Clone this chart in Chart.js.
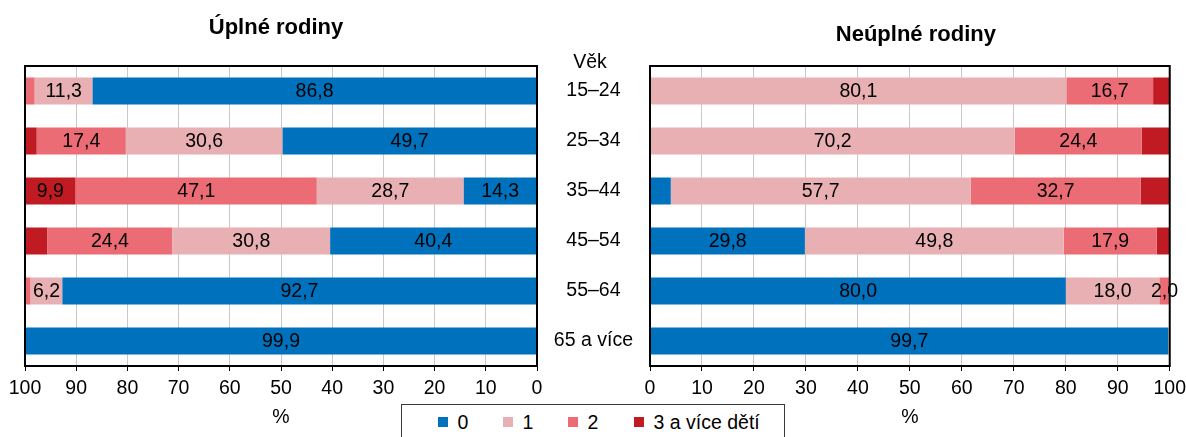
<!DOCTYPE html>
<html>
<head>
<meta charset="utf-8">
<script src="https://cdn.jsdelivr.net/npm/chart.js@4.4.1/dist/chart.umd.min.js"></script>
<style>
html,body{margin:0;padding:0;background:#fff;width:1186px;height:437px;overflow:hidden;font-family:"Liberation Sans",Arial,sans-serif;position:relative;}
canvas{position:absolute;top:0;}
#left{left:0;}
#right{left:540px;}
#legend{position:absolute;left:401px;top:404px;width:384px;height:40px;border:1px solid #3a3a3a;background:#fff;box-sizing:border-box;}
.item{position:absolute;top:6px;font-size:19.5px;line-height:22px;white-space:nowrap;color:#000;}
.sw{position:absolute;left:0;top:6px;width:10px;height:10px;}
.tx{position:absolute;left:19.5px;top:0;}
</style>
</head>
<body>
<canvas id="left" width="560" height="437"></canvas>
<canvas id="right" width="652" height="437"></canvas>
<div id="legend"></div>
<script>
// ---- data ----
const ageGroups = ['15–24', '25–34', '35–44', '45–54', '55–64', '65 a více'];
const seriesNames = ['0', '1', '2', '3 a více dětí'];
const panelTitles = ['Úplné rodiny', 'Neúplné rodiny'];
const ageAxisTitle = 'Věk';
const valueAxisTitle = '%';

// Úplné rodiny (complete families)
const full0 = [86.8, 49.7, 14.3, 40.4, 92.7, 99.9];
const full1 = [11.3, 30.6, 28.7, 30.8, 6.2, 0.1];
const full2 = [1.9, 17.4, 47.1, 24.4, 1.1, 0.0];
const full3 = [0.0, 2.3, 9.9, 4.4, 0.0, 0.0];

// Neúplné rodiny (single-parent families)
const single0 = [0.0, 0.0, 4.0, 29.8, 80.0, 99.7];
const single1 = [80.1, 70.2, 57.7, 49.8, 18.0, 0.3];
const single2 = [16.7, 24.4, 32.7, 17.9, 2.0, 0.0];
const single3 = [3.2, 5.4, 5.6, 2.5, 0.0, 0.0];

// ---- styles ----
const seriesColors = ['#0071BD', '#E8B0B3', '#EB6C74', '#C01A22'];
const FONT = '"Liberation Sans", Arial, sans-serif';
const FS = 19.5;

function datasets(arrs) {
  return arrs.map((d, i) => ({
    label: seriesNames[i],
    data: d,
    backgroundColor: seriesColors[i],
    borderWidth: 0,
    barPercentage: 0.54,
    categoryPercentage: 1.0
  }));
}

const boxPlugin = {
  id: 'box',
  afterDatasetsDraw(chart) {
    const a = chart.chartArea, c = chart.ctx;
    c.save();
    c.strokeStyle = '#000';
    c.lineWidth = 2;
    c.strokeRect(a.left, a.top, a.right - a.left, a.bottom - a.top);
    c.restore();
  }
};

const labelPlugin = {
  id: 'seglabels',
  afterDraw(chart, args, opts) {
    const c = chart.ctx;
    c.save();
    c.font = FS + 'px ' + FONT;
    c.fillStyle = '#000';
    c.textAlign = 'center';
    c.textBaseline = 'middle';
    chart.data.datasets.forEach((ds, di) => {
      const meta = chart.getDatasetMeta(di);
      meta.data.forEach((el, i) => {
        const v = ds.data[i];
        const extra = (opts.extra || []).some(e => e[0] === di && e[1] === i);
        if (!(v >= opts.min || extra)) return;
        const p = el.getProps(['x', 'base', 'y'], true);
        c.fillText(v.toFixed(1).replace('.', ','), (p.x + p.base) / 2, p.y + 1);
      });
    });
    c.restore();
  }
};

const panelTitlePlugin = {
  id: 'ptitle',
  afterDraw(chart, args, opts) {
    const c = chart.ctx, a = chart.chartArea;
    c.save();
    c.font = 'bold 22px ' + FONT;
    c.fillStyle = '#000';
    c.textAlign = 'center';
    c.textBaseline = 'middle';
    c.fillText(opts.text, (a.left + a.right) / 2 + opts.dx, opts.y);
    c.restore();
  }
};

const vekPlugin = {
  id: 'vek',
  afterDraw(chart) {
    const c = chart.ctx, a = chart.chartArea;
    c.save();
    c.font = FS + 'px ' + FONT;
    c.fillStyle = '#000';
    c.textAlign = 'center';
    c.textBaseline = 'middle';
    c.fillText(ageAxisTitle, a.left - 60, a.top - 3);
    c.restore();
  }
};

function xScale(reverse) {
  return {
    type: 'linear',
    stacked: true,
    reverse: reverse,
    min: 0, max: 100,
    ticks: { stepSize: 10, color: '#000', font: { family: FONT, size: FS }, padding: 6, maxRotation: 0 },
    grid: { color: '#C8C8C8', lineWidth: 1, tickColor: '#000', tickLength: 5, drawTicks: true },
    border: { display: true, color: '#000', width: 2 },
    title: { display: true, text: valueAxisTitle, color: '#000', font: { family: FONT, size: FS }, padding: { top: 4, bottom: 8 } },
    afterFit(s) { s.height = 71; }
  };
}

function makeChart(id, title, arrs, reverse, titleOpts, showAges, pad, extra) {
  return new Chart(document.getElementById(id), {
    type: 'bar',
    data: { labels: ageGroups, datasets: datasets(arrs) },
    options: {
      indexAxis: 'y',
      responsive: false,
      animation: false,
      devicePixelRatio: 1,
      layout: { padding: pad, autoPadding: false },
      scales: {
        x: xScale(reverse),
        y: {
          stacked: true,
          display: showAges,
          ticks: { color: '#000', font: { family: FONT, size: FS }, crossAlign: 'center', padding: 9 },
          grid: { display: false },
          border: { display: false },
          afterFit(s) { if (showAges) s.width = 110; }
        }
      },
      plugins: {
        legend: { display: false },
        tooltip: { enabled: false },
        title: { display: false },
        ptitle: { text: title, dx: titleOpts.dx, y: titleOpts.y },
        seglabels: { min: 6, extra: extra }
      }
    },
    plugins: showAges ? [boxPlugin, labelPlugin, panelTitlePlugin, vekPlugin] : [boxPlugin, labelPlugin, panelTitlePlugin]
  });
}

makeChart('left', panelTitles[0], [full0, full1, full2, full3], true,
  { dx: -5, y: 28 }, false, { left: 25, right: 23, top: 66, bottom: 0 }, []);
makeChart('right', panelTitles[1], [single0, single1, single2, single3], false,
  { dx: 6, y: 35 }, true, { left: 0, right: 10, top: 66, bottom: 0 }, [[2, 4]]);

// HTML legend built from the series arrays
const legendX = [36, 101, 166, 232];
const lg = document.getElementById('legend');
seriesNames.forEach((n, i) => {
  const it = document.createElement('div');
  it.className = 'item';
  it.style.left = legendX[i] + 'px';
  const sw = document.createElement('span');
  sw.className = 'sw';
  sw.style.background = seriesColors[i];
  const tx = document.createElement('span');
  tx.className = 'tx';
  tx.textContent = n;
  it.appendChild(sw); it.appendChild(tx);
  lg.appendChild(it);
});
</script>
</body>
</html>
